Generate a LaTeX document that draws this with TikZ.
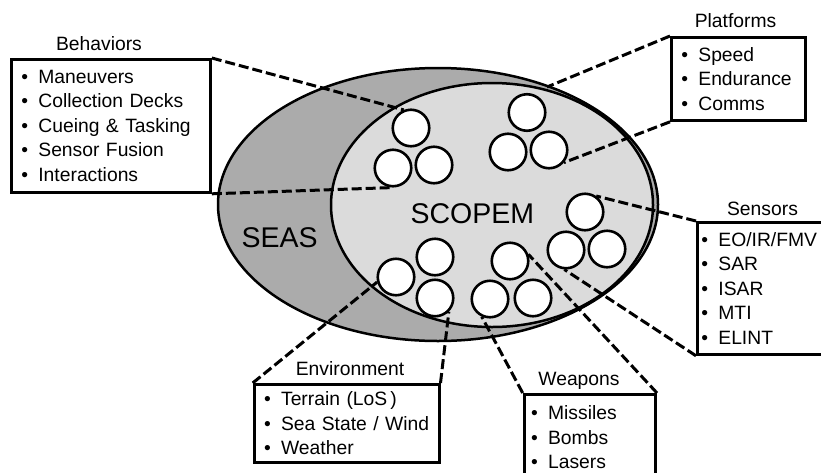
\documentclass[tikz,border=0pt]{standalone}
\usepackage{fontspec}
\setmainfont{Liberation Sans}
\usepackage{tikz}

\definecolor{seasgray}{gray}{0.67}
\definecolor{scopemgray}{gray}{0.86}

\newcommand{\listfont}{\fontsize{19.3}{24.5}\selectfont}
\newcommand{\itm}[1]{\mbox{\makebox[17pt][l]{\textbullet}#1}}

\begin{document}
\begin{tikzpicture}[x=1pt, y=-1pt,
    ball/.style={circle, draw, line width=2.6pt, fill=white, minimum size=36.5pt, inner sep=0pt},
    link/.style={line width=3pt, dash pattern=on 10pt off 4pt},
    listbox/.style={draw, line width=2.8pt, fill=white, anchor=north west, align=left,
                    inner xsep=10pt, inner ysep=0pt, font=\listfont},
    heading/.style={anchor=base, font=\listfont},
    bigtag/.style={anchor=base west, font=\fontsize{28.5}{30}\selectfont}]

\useasboundingbox (0,0) rectangle (821,472);

\def\seasellipse{(438,204.5) ellipse (220 and 136.5)}
\def\scopemellipse{(492,205) ellipse (161 and 122)}

% the two sets
\draw[line width=2.5pt, fill=seasgray] \seasellipse;
\draw[line width=2.5pt, fill=scopemgray] \scopemellipse;

\node[bigtag] (seas) at (238,247) {SEAS};
\node[bigtag] (scopem) at (407,223) {SCOPEM};

% groups of three models
\foreach \n/\x/\y in {b1/411/128, b2/393/168, b3/434/165,
                      p1/527/112.5, p2/508/152, p3/549/150,
                      s1/585/212, s2/566/250, s3/607/249,
                      e1/435/257, e2/396/277, e3/435/298,
                      w1/510/261, w2/490/299, w3/533/298}
    \node[ball] (\n) at (\x,\y) {};

% lists
\node[listbox, minimum width=199pt, minimum height=133pt, text width=179pt] (behav) at (10,58)
    {\itm{Maneuvers}\\ \itm{Collection Decks}\\ \itm{Cueing \& Tasking}\\ \itm{Sensor Fusion}\\ \itm{Interactions}};
\node[listbox, minimum width=134pt, minimum height=83pt, text width=114pt] (platf) at (670,36)
    {\itm{Speed}\\ \itm{Endurance}\\ \itm{Comms}};
\node[listbox, inner xsep=4pt, minimum width=128pt, minimum height=132pt, text width=120pt] (sens) at (696,221)
    {\itm{EO/IR/FMV}\\ \itm{SAR}\\ \itm{ISAR}\\ \itm{MTI}\\ \itm{ELINT}};
\node[listbox, minimum width=185pt, minimum height=78pt, text width=165pt] (envir) at (252.7,383)
    {\itm{Terrain (LoS\,)}\\ \itm{Sea State / Wind}\\ \itm{Weather}};
\node[listbox, inner xsep=7pt, minimum width=131.5pt, minimum height=86pt, text width=117.5pt] (weap) at (522.7,393)
    {\itm{Missiles}\\ \itm{Bombs}\\ \itm{Lasers}};

\node[heading] (behavT) at (99,50) {Behaviors};
\node[heading] (platfT) at (735.5,27.3) {Platforms};
\node[heading] (sensT) at (762.5,215) {Sensors};
\node[heading] (envirT) at (350,375) {Environment};
\node[heading] (weapT) at (579,385) {Weapons};

% dashed leaders
\coordinate (platfEnd) at (547,87);
\draw[link] (behav.north east) -- (b1.112);
\draw[link] (behav.south east) -- (b2.south);
\draw[link] (platf.north west) -- (platfEnd);
\draw[link] (platf.south west) -- (p3.-40);
\draw[link] (sens.north west) -- (s1.55);
\draw[link] (sens.south west) -- (s2.-95);
\draw[link] (envir.north west) -- (e2.195);
\draw[link] (envir.north east) -- (e3.-45);
\draw[link] (weap.north west) -- (w2.-115);
\draw[link] (weap.north east) -- (w1.20);

\end{tikzpicture}
\end{document}
